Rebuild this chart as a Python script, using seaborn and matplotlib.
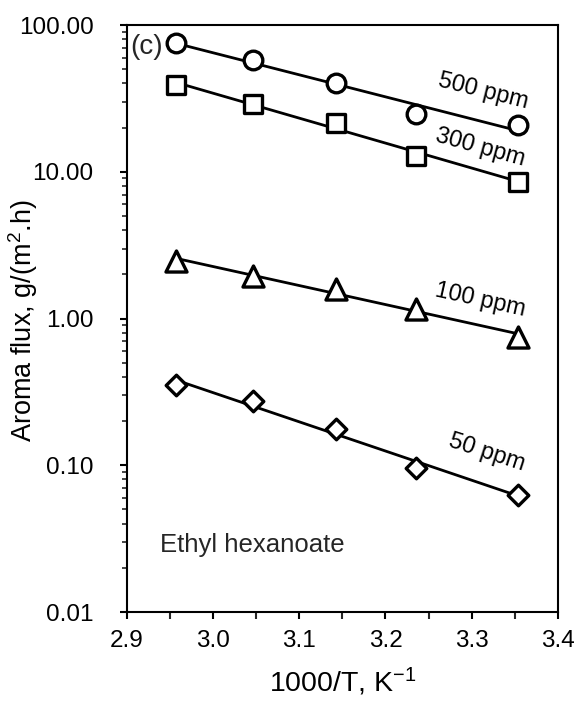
import numpy as np
import pandas as pd
import matplotlib
matplotlib.use("Agg")
import matplotlib.pyplot as plt
from matplotlib.ticker import LogLocator, FixedLocator, FormatStrFormatter, MultipleLocator, NullFormatter
import seaborn as sns

# ---- data ----
inv_T = [2.957, 3.047, 3.143, 3.235, 3.354]
flux_500 = [75.0, 57.7, 40.1, 24.8, 20.7]
flux_300 = [39.0, 29.0, 21.4, 12.9, 8.55]
flux_100 = [2.47, 1.95, 1.58, 1.16, 0.745]
flux_50 = [0.352, 0.275, 0.176, 0.096, 0.0627]
series_names = ["500 ppm", "300 ppm", "100 ppm", "50 ppm"]
y_ticks = [0.01, 0.1, 1, 10, 100]
x_ticks = [2.9, 3.0, 3.1, 3.2, 3.3, 3.4]

sns.set_theme(style="white")
plt.rcParams["font.family"] = ["Liberation Sans", "DejaVu Sans"]
plt.rcParams["mathtext.fontset"] = "custom"
plt.rcParams["mathtext.rm"] = "Liberation Sans"
plt.rcParams["mathtext.it"] = "Liberation Sans:italic"

fig = plt.figure(figsize=(5.77, 7.05), dpi=100)
ax = fig.add_axes([0.2196, 0.1319, 0.967 - 0.2196, 0.9645 - 0.1319])

all_flux = [flux_500, flux_300, flux_100, flux_50]
markers = ["o", "s", "^", "D"]
msizes = [180, 175, 230, 110]

for name, fl, mk, ms in zip(series_names, all_flux, markers, msizes):
    x = np.array(inv_T)
    y = np.array(fl)
    # exponential trendline (fit on log scale)
    b, a = np.polyfit(x, np.log(y), 1)
    xf = np.array([x.min(), x.max()])
    df_fit = pd.DataFrame({"x": xf, "y": np.exp(a + b * xf)})
    sns.lineplot(data=df_fit, x="x", y="y", ax=ax, color="black", lw=2.0, zorder=2)
    df = pd.DataFrame({"x": x, "y": y})
    sns.scatterplot(data=df, x="x", y="y", ax=ax, marker=mk, s=ms,
                    facecolor="white", edgecolor="black", linewidth=2.4, zorder=3)

ax.set_yscale("log")
ax.set_ylim(0.01, 100)
ax.set_xlim(2.9, 3.4)
ax.yaxis.set_major_locator(FixedLocator(y_ticks))
ax.yaxis.set_major_formatter(FormatStrFormatter("%.2f"))
ax.yaxis.set_minor_locator(LogLocator(base=10, subs=np.arange(2, 10)))
ax.yaxis.set_minor_formatter(NullFormatter())
ax.xaxis.set_major_locator(FixedLocator(x_ticks))
ax.xaxis.set_major_formatter(FormatStrFormatter("%.1f"))
ax.xaxis.set_minor_locator(MultipleLocator(0.05))

for sp in ax.spines.values():
    sp.set_color("black")
    sp.set_linewidth(1.5)

ax.tick_params(axis="both", which="major", direction="out", length=5, width=1.5,
               color="black", labelsize=17.5, labelcolor="black", left=True, bottom=True)
ax.tick_params(axis="y", which="minor", direction="out", length=3.5, width=1.2, left=True)
ax.tick_params(axis="x", which="minor", direction="out", length=5, width=1.5, bottom=True)
ax.tick_params(axis="x", which="major", pad=8)
ax.tick_params(axis="y", which="major", pad=19)

ax.set_xlabel("1000/T, K$^{-1}$", fontsize=20.5, color="black", labelpad=10)
ax.set_ylabel("Aroma flux, g/(m$^{2}$.h)", fontsize=19.5, color="black",
              va="center", ha="center")
ax.yaxis.set_label_coords(-0.240, 0.496)

# annotations
lbl_pos = [(3.313, 35.5, -14), (3.31, 14.5, -15.5), (3.31, 1.34, -12.5), (3.318, 0.121, -18)]
for name, (lx, ly, rot) in zip(series_names, lbl_pos):
    ax.text(lx, ly, name, fontsize=17, rotation=rot,
            ha="center", va="center", rotation_mode="anchor", color="black")
ax.text(0.045, 0.9625, "(c)", transform=ax.transAxes, fontsize=20, ha="center", va="center")
ax.text(0.291, 0.115, "Ethyl hexanoate", transform=ax.transAxes, fontsize=18.5, ha="center", va="center")

fig.savefig("out.png", dpi=100)
